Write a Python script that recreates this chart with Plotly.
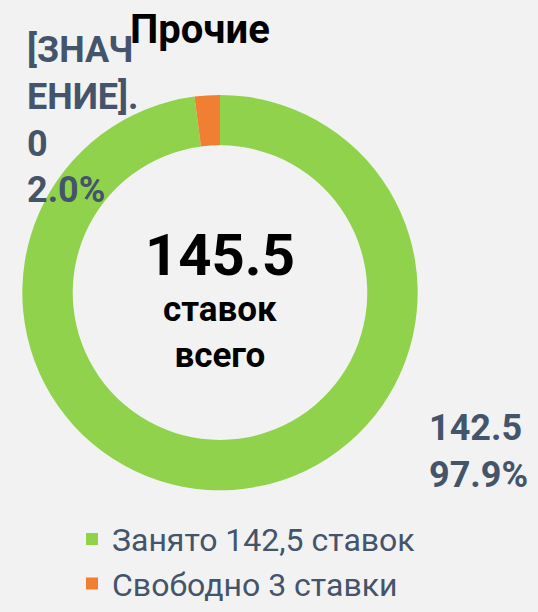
"""Donut chart: staffing positions, 'Прочие' group."""

import plotly.graph_objects as go

TEXT_COLOR = "#44546A"
FONT = "Roboto"
W, H = 538, 612

# data
slice_names = ["Занято 142,5 ставок", "Свободно 3 ставки"]
slice_values = [142.5, 3]
slice_colors = ["#90D24C", "#F07F33"]
value_labels = ["142.5", "[ЗНАЧ<br>ЕНИЕ].<br>0"]
percent_labels = ["97.9%", "2.0%"]
total_label = "145.5"
total_caption = "ставок<br>всего"
title_text = "Прочие"


def px(x, y):
    """page pixels -> paper coords"""
    return x / W, 1 - y / H


fig = go.Figure()
fig.add_trace(
    go.Pie(
        labels=slice_names,
        values=slice_values,
        hole=0.745,
        sort=False,
        direction="clockwise",
        rotation=0,
        marker={"colors": slice_colors, "line": {"width": 0}},
        textinfo="none",
        domain={"x": [16 / W, 424 / W], "y": [1 - 506 / H, 1 - 98 / H]},
        showlegend=True,
    )
)

# outside data labels, placed like the original
label_pos = [(530, 466, "right"), (25, 124, "left")]
annotations = []
for (x, y, anchor), val, pct in zip(label_pos, value_labels, percent_labels):
    ax, ay = px(x, y)
    annotations.append(
        dict(
            x=ax, y=ay, xref="paper", yref="paper",
            xanchor=anchor, yanchor="middle", align="left",
            showarrow=False,
            text=f"<b>{val}<br>{pct}</b>",
            font={"family": FONT, "size": 36, "color": TEXT_COLOR},
        )
    )

# centre text + title
for (x, y), text, size in [
    ((220, 263), total_label, 58),
    ((220, 343), total_caption, 35),
    ((200, 30), title_text, 40),
]:
    ax, ay = px(x, y)
    annotations.append(
        dict(
            x=ax, y=ay, xref="paper", yref="paper",
            xanchor="center", yanchor="middle",
            showarrow=False,
            text=f"<b>{text}</b>",
            font={"family": FONT, "size": size, "color": "#000000"},
        )
    )

lx, ly = px(72, 528)
fig.update_layout(
    width=W,
    height=H,
    paper_bgcolor="#F2F2F2",
    plot_bgcolor="#F2F2F2",
    margin={"l": 0, "r": 0, "t": 0, "b": 0},
    font={"family": FONT, "color": TEXT_COLOR},
    annotations=annotations,
    legend={
        "x": lx,
        "y": ly,
        "xanchor": "left",
        "yanchor": "top",
        "font": {"family": FONT, "size": 32, "color": TEXT_COLOR},
        "bgcolor": "rgba(0,0,0,0)",
    },
)

fig.write_html(
    "out.html",
    config={"displayModeBar": False},
    post_script="document.body.style.margin='0';document.body.style.background='#F2F2F2';",
)
